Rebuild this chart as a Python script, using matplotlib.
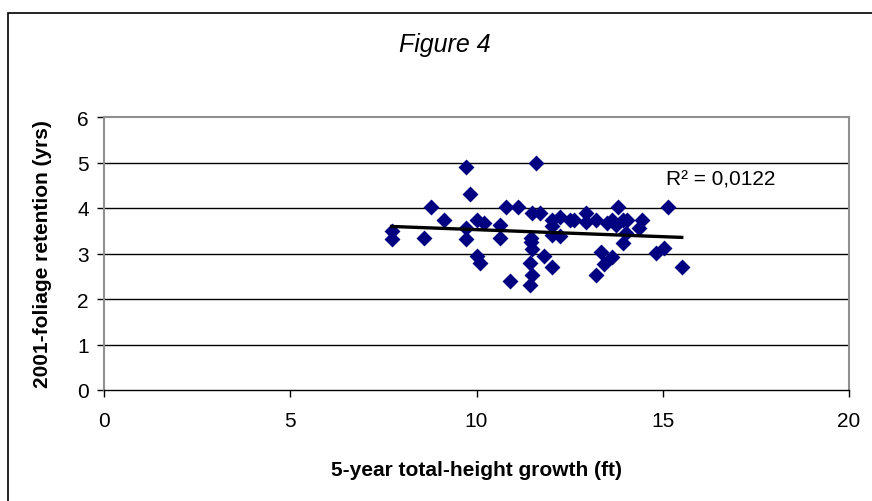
import numpy as np
import matplotlib
matplotlib.use("Agg")
import matplotlib.pyplot as plt
from matplotlib.patches import Rectangle

plt.rcParams['font.family'] = ['Liberation Sans', 'DejaVu Sans']

# 5-year total-height growth (ft)
growth = [7.72, 7.72, 8.58, 8.79, 9.12, 9.71, 9.82, 9.71, 9.71, 10.02,
          10.2, 10.02, 10.09, 10.63, 10.63, 10.78, 11.11, 10.9, 11.59, 11.48,
          11.70, 11.45, 11.45, 11.5, 11.43, 11.5, 11.43, 11.81, 12.02, 12.03,
          12.02, 12.03, 12.24, 12.24, 12.51, 12.63, 12.93, 12.93, 13.2, 13.8,
          13.51, 13.65, 13.74, 13.92, 14.05, 14.0, 13.92, 14.45, 14.36, 13.33,
          13.42, 13.65, 13.2, 15.14, 14.81, 15.03, 15.51]
# 2001-foliage retention (yrs)
retention = [3.50, 3.31, 3.33, 4.02, 3.73, 4.90, 4.30, 3.55, 3.31, 3.73,
             3.66, 2.94, 2.79, 3.63, 3.33, 4.02, 4.02, 2.39, 5.00, 3.89,
             3.89, 3.33, 3.25, 3.10, 2.79, 2.53, 2.31, 2.94, 2.70, 3.73,
             3.60, 3.41, 3.80, 3.38, 3.73, 3.73, 3.90, 3.69, 3.73, 4.02,
             3.66, 3.73, 3.62, 3.73, 3.73, 3.44, 3.22, 3.74, 3.55, 3.03,
             2.78, 2.92, 2.53, 4.02, 3.02, 3.12, 2.70]

title = "Figure 4"
xlabel = "5-year total-height growth (ft)"
ylabel = "2001-foliage retention (yrs)"
r2_text = "R\u00b2 = 0,0122"
xticks = [0, 5, 10, 15, 20]
yticks = [0, 1, 2, 3, 4, 5, 6]

fig = plt.figure(figsize=(8.72, 5.02), dpi=100)
fig.patch.set_facecolor('white')
ax = fig.add_axes([104/872, 1-391/502, (849-104)/872, (391-118)/502])

# outer chart border
fig.patches.append(Rectangle((8/872, -0.2), 1.2, 0.2 + 1 - 14/502,
                             transform=fig.transFigure, fill=False,
                             edgecolor='black', linewidth=1.2))

x = np.array(growth)
y = np.array(retention)
ax.scatter(x, y, marker='D', s=66, color='#000080', linewidths=0, zorder=3)

coef = np.polyfit(x, y, 1)
xf = np.array([x.min(), x.max()])
ax.plot(xf, np.polyval(coef, xf), color='black', linewidth=2.4, zorder=4)

ax.set_xlim(0, 20)
ax.set_ylim(0, 6)
ax.set_xticks(xticks)
ax.set_yticks(yticks)
for yy in yticks[1:-1]:
    ax.axhline(yy, color='black', linewidth=1.0, zorder=1)

for s in ['top', 'right', 'left']:
    ax.spines[s].set_color('#909090')
    ax.spines[s].set_linewidth(1.5)
ax.spines['bottom'].set_color('black')
ax.spines['bottom'].set_linewidth(1.0)

ax.tick_params(axis='both', direction='out', length=5, width=1, labelsize=15, color='black')
ax.tick_params(axis='x', pad=10)
ax.tick_params(axis='y', pad=6)

ax.set_xlabel(xlabel, fontsize=15, fontweight='bold', labelpad=22)
ax.set_ylabel(ylabel, fontsize=15, fontweight='bold', labelpad=18)

fig.text(445/872, 1-45/502, title, fontsize=18, style='italic', ha='center', va='center')
ax.text(15.1, 4.64, r2_text, fontsize=15, ha='left', va='center')

fig.savefig('out.png', dpi=100)
